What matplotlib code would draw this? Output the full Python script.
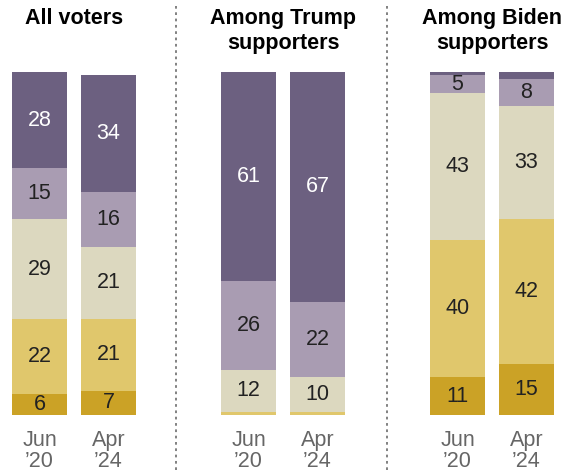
import matplotlib
matplotlib.use("Agg")
import matplotlib.pyplot as plt

plt.rcParams['font.family'] = ['Liberation Sans', 'DejaVu Sans']

panels = ["All voters", "Among Trump\nsupporters", "Among Biden\nsupporters"]
periods = ["Jun\n\u201920", "Apr\n\u201924"]

# bottom -> top segments, each list = [Jun '20, Apr '24] per panel
dark_gold = [[6, 7], [0, 0], [11, 15]]
yellow = [[22, 21], [1, 1], [40, 42]]
beige = [[29, 21], [12, 10], [43, 33]]
light_purple = [[15, 16], [26, 22], [5, 8]]
dark_purple = [[28, 34], [61, 67], [1, 2]]

series = [dark_gold, yellow, beige, light_purple, dark_purple]
colors = ["#cba226", "#e0c76c", "#dcd8bf", "#a99cb2", "#6c6080"]
text_colors = ["#222222", "#222222", "#222222", "#222222", "#ffffff"]

W, H = 568, 474
fig = plt.figure(figsize=(W / 100, H / 100), dpi=100)
ax = fig.add_axes([0, 1 - 415 / H, 1, (415 - 72) / H])
ax.set_xlim(0, W)
ax.set_ylim(0, 100)
ax.axis("off")

panel_left = [12, 221, 430]
bar_w = 55
gap = 14

for p in range(3):
    for b in range(2):
        x = panel_left[p] + b * (bar_w + gap) + bar_w / 2
        bottom = 0
        for s, vals in enumerate(series):
            v = vals[p][b]
            ax.bar(x, v, width=bar_w, bottom=bottom, color=colors[s], edgecolor="none")
            if v >= 5:
                ax.text(x, bottom + v / 2, str(v), ha="center", va="center",
                        fontsize=15.5, color=text_colors[s])
            bottom += v
        fig.text(x / W, 1 - 451 / H, periods[b], ha="center", va="center",
                 fontsize=15.5, color="#666666", linespacing=1.0)
    cx = panel_left[p] + bar_w + gap / 2
    fig.text(cx / W, 1 - 8 / H, panels[p], ha="center", va="top",
             fontsize=15.5, fontweight="bold", color="#000000", linespacing=1.25)

for dx in [176, 387]:
    fig.add_artist(plt.Line2D([dx / W, dx / W], [1 - 470 / H, 1 - 6 / H],
                              color="#777777", linestyle=(0, (1.5, 2)), linewidth=1.3))

fig.savefig("out.png", dpi=100)
